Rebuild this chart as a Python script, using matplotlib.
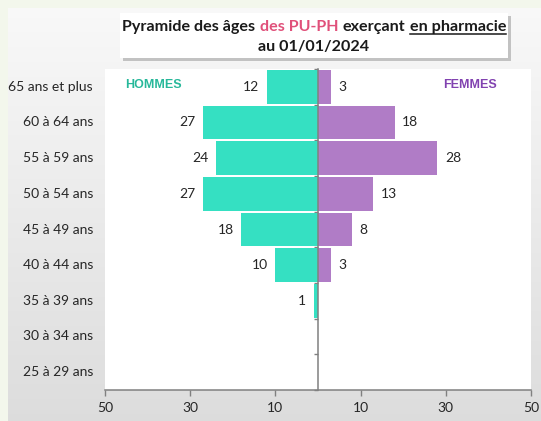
import numpy as np
import matplotlib
matplotlib.use("Agg")
import matplotlib.pyplot as plt
from matplotlib.patches import Rectangle
from matplotlib.lines import Line2D
import matplotlib.transforms as mtransforms

# data (youngest at the bottom)
categories = ["25 à 29 ans", "30 à 34 ans", "35 à 39 ans", "40 à 44 ans", "45 à 49 ans",
              "50 à 54 ans", "55 à 59 ans", "60 à 64 ans", "65 ans et plus"]
hommes = [0, 0, 1, 10, 18, 27, 24, 27, 12]
femmes = [0, 0, 0, 3, 8, 13, 28, 18, 3]
xtick_values = [-50, -30, -10, 10, 30, 50]

col_h = "#35E0C2"
col_f = "#B07CC6"
col_h_txt = "#27B89A"
col_f_txt = "#8142B0"
grey = "#808080"
FONT = "Lato"

W, H = 541, 421
fig = plt.figure(figsize=(W / 100, H / 100), dpi=100)
fig.patch.set_facecolor("#F3F7EC")

# gradient background of the chart area
bg = fig.add_axes([8 / W, 0, 1 - 8 / W, 1 - 8 / H], zorder=-10)
grad = np.linspace(0.975, 0.865, 256).reshape(-1, 1)
bg.imshow(np.dstack([grad, grad, grad]), aspect="auto", extent=[0, 1, 0, 1])
bg.set_axis_off()

# title box with shadow
bx, by, bw, bh = 120 / W, 1 - 58 / H, 388 / W, 45 / H
fig.patches.append(Rectangle((bx + 3 / W, by - 3 / H), bw, bh, transform=fig.transFigure,
                             facecolor="#A0A0A0", edgecolor="none", alpha=0.6, zorder=1))
fig.patches.append(Rectangle((bx, by), bw, bh, transform=fig.transFigure,
                             facecolor="white", edgecolor="none", zorder=2))

ax = fig.add_axes([105 / W, 1 - 390 / H, 426 / W, 321 / H])
ax.set_facecolor("white")

y = np.arange(len(categories))
bh_ = 0.94
bars_h = ax.barh(y, [-v for v in hommes], height=bh_, color=col_h, zorder=2)
bars_f = ax.barh(y, femmes, height=bh_, color=col_f, zorder=2)
ax.bar_label(bars_h, labels=[str(v) if v else "" for v in hommes], padding=5.5,
             fontsize=10, family=FONT, color="#262626")
ax.bar_label(bars_f, labels=[str(v) if v else "" for v in femmes], padding=5.5,
             fontsize=10, family=FONT, color="#262626")

ax.set_xlim(-50, 50)
ax.set_ylim(-0.5, len(categories) - 0.5)

# centre axis with ticks at category boundaries
ax.spines["left"].set_position(("data", 0))
ax.spines["left"].set_color(grey)
ax.spines["left"].set_linewidth(1.1)
ax.spines["left"].set_zorder(3)
ax.set_yticks(np.arange(len(categories) + 1) - 0.5)
ax.set_yticklabels([])
ax.tick_params(axis="y", direction="out", length=3, color=grey, width=1)
for s in ["top", "right"]:
    ax.spines[s].set_visible(False)
ax.spines["bottom"].set_color(grey)
ax.spines["bottom"].set_linewidth(1.1)

ax.set_xticks(xtick_values)
ax.set_xticklabels([str(abs(v)) for v in xtick_values], fontsize=10, family=FONT, color="#262626")
ax.tick_params(axis="x", direction="out", length=4, color=grey, width=1, pad=5)

# category labels on the far left
trans = mtransforms.blended_transform_factory(ax.transAxes, ax.transData)
for yi, c in zip(y, categories):
    ax.text(-0.028, yi, c, transform=trans, ha="right", va="center",
            fontsize=10, family=FONT, color="#262626")

ax.text(0.047, 0.95, "HOMMES", transform=ax.transAxes, ha="left", va="center",
        fontsize=9, family="Liberation Sans", fontweight="bold", color=col_h_txt)
ax.text(0.92, 0.95, "FEMMES", transform=ax.transAxes, ha="right", va="center",
        fontsize=9, family="Liberation Sans", fontweight="bold", color=col_f_txt)

# title in several coloured pieces
tkw = dict(fontsize=11.6, family=FONT, fontweight="bold", zorder=5)
pieces = [("Pyramide des âges", "#1A1A1A"), ("des PU-PH", "#E0507A"),
          ("exerçant", "#1A1A1A"), ("en pharmacie", "#1A1A1A")]
gap = 3.2
base_y = H - 31
texts = [fig.text(0, 0, s, color=c, ha="left", va="baseline",
                  transform=mtransforms.IdentityTransform(), **tkw) for s, c in pieces]

fig.canvas.draw()
r = fig.canvas.get_renderer()
widths = [t.get_window_extent(r).width for t in texts]
gap_px = gap * 100 / 72
total = sum(widths) + gap_px * (len(texts) - 1)
xcur = 314 - total / 2
for t, w in zip(texts, widths):
    t.set_position((xcur, base_y))
    xcur += w + gap_px

fig.canvas.draw()
ub = texts[-1].get_window_extent(r)
fig.add_artist(Line2D([ub.x0, ub.x1], [base_y - 2.5, base_y - 2.5],
                      transform=mtransforms.IdentityTransform(), color="#1A1A1A", lw=1.1, zorder=6))

fig.text(314 / W, 1 - 51 / H, "au 01/01/2024", ha="center", va="baseline", color="#1A1A1A", **tkw)

fig.savefig("out.png", dpi=100)
